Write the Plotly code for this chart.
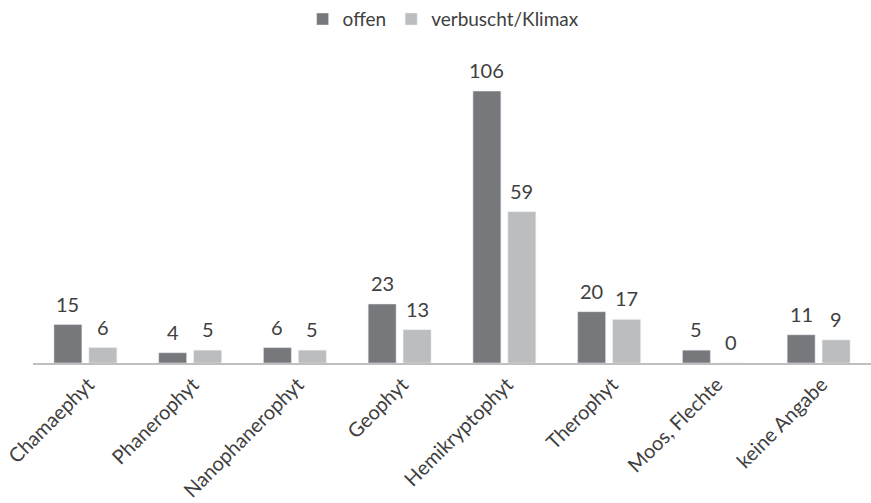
import plotly.graph_objects as go

categories = ["Chamaephyt", "Phanerophyt", "Nanophanerophyt", "Geophyt",
              "Hemikryptophyt", "Therophyt", "Moos, Flechte", "keine Angabe"]
offen = [15, 4, 6, 23, 106, 20, 5, 11]
verbuscht = [6, 5, 5, 13, 59, 17, 0, 9]

font_family = "Lato, Liberation Sans, sans-serif"
text_color = "#404040"

series = [("offen", offen, "#77787b", -17.5),
          ("verbuscht/Klimax", verbuscht, "#bcbdbf", 17.5)]

fig = go.Figure()
for name, values, color, _ in series:
    fig.add_trace(go.Bar(name=name, x=categories, y=values,
                         marker=dict(color=color)))

# value labels above each bar, shifted onto the bar within its group
for name, values, color, dx in series:
    for cat, v in zip(categories, values):
        fig.add_annotation(x=cat, y=v, text=str(v), showarrow=False,
                           xshift=dx, yshift=7, yanchor="bottom",
                           font=dict(size=20, color=text_color, family=font_family))

fig.update_layout(
    width=871, height=503,
    margin=dict(l=33, r=0, t=68, b=140),
    paper_bgcolor="white", plot_bgcolor="white",
    barmode="group", bargap=0.333, bargroupgap=0.2,
    font=dict(family=font_family, size=19, color=text_color),
    legend=dict(orientation="h", x=0.49, xanchor="center", y=1.23, yanchor="top",
                font=dict(size=19, color=text_color), itemwidth=30,
                traceorder="normal"),
)
fig.update_xaxes(showline=True, linecolor="#bfbfbf", linewidth=2,
                 tickangle=-45, ticks="", showgrid=False,
                 ticklabelshift=3,
                 tickfont=dict(size=20, color=text_color))
fig.update_yaxes(range=[0, 115], visible=False, showgrid=False, zeroline=False)

fig.write_html("out.html")
